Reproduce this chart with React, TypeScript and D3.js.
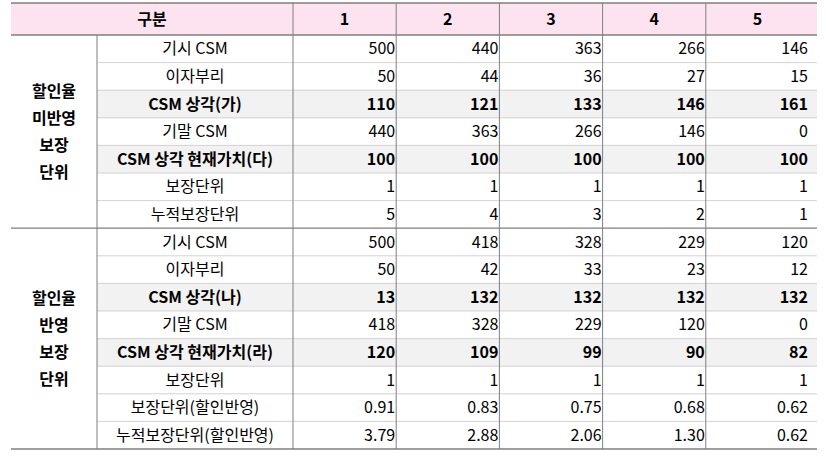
import React from "react";
import * as d3 from "d3";

const columns = ["1", "2", "3", "4", "5"];
const groupA = "할인율\n미반영\n보장\n단위";
const groupB = "할인율\n반영\n보장\n단위";
const labelsA = ["기시 CSM", "이자부리", "CSM 상각(가)", "기말 CSM", "CSM 상각 현재가치(다)", "보장단위", "누적보장단위"];
const valuesA = [
  ["500", "440", "363", "266", "146"],
  ["50", "44", "36", "27", "15"],
  ["110", "121", "133", "146", "161"],
  ["440", "363", "266", "146", "0"],
  ["100", "100", "100", "100", "100"],
  ["1", "1", "1", "1", "1"],
  ["5", "4", "3", "2", "1"],
];
const boldA = [false, false, true, false, true, false, false];
const labelsB = ["기시 CSM", "이자부리", "CSM 상각(나)", "기말 CSM", "CSM 상각 현재가치(라)", "보장단위", "보장단위(할인반영)", "누적보장단위(할인반영)"];
const valuesB = [
  ["500", "418", "328", "229", "120"],
  ["50", "42", "33", "23", "12"],
  ["13", "132", "132", "132", "132"],
  ["418", "328", "229", "120", "0"],
  ["120", "109", "99", "90", "82"],
  ["1", "1", "1", "1", "1"],
  ["0.91", "0.83", "0.75", "0.68", "0.62"],
  ["3.79", "2.88", "2.06", "1.30", "0.62"],
];
const boldB = [false, false, true, false, true, false, false, false];

export default function App() {
  const W = 826, H = 461;
  const x0 = 11, xL = 97, xV = 293, xEnd = 817;
  const yTop = 3, yHead = 35, rowH = 27.6;
  const xc = d3.scaleBand().domain(columns).range([xV, xEnd - 8]);
  const font = "'Noto Sans CJK KR', 'Noto Sans', sans-serif";
  const fs = 16;
  const rows = [
    ...labelsA.map((l, i) => ({ l, v: valuesA[i], b: boldA[i], g: 0 })),
    ...labelsB.map((l, i) => ({ l, v: valuesB[i], b: boldB[i], g: 1 })),
  ];
  const y = (i: number) => yHead + i * rowH;
  const groups = [
    { text: groupA, start: 0, n: labelsA.length },
    { text: groupB, start: labelsA.length, n: labelsB.length },
  ];
  const colEdges = [xV, ...columns.slice(1).map((c) => xc(c)!)];
  return (
    <svg width={W} height={H} style={{ position: "absolute", left: 0, top: 0 }} fontFamily={font}>
      <rect x={0} y={0} width={W} height={H} fill="#fff" />
      <rect x={x0} y={yTop} width={xEnd - x0} height={yHead - yTop} fill="#fde3f0" />
      {rows.map((r, i) => r.b ? <rect key={"bg" + i} x={xL} y={y(i)} width={xEnd - xL} height={rowH} fill="#f2f2f2" /> : null)}
      {rows.map((r, i) => i > 0 && i !== labelsA.length ? (
        <line key={"h" + i} x1={xL} x2={xEnd} y1={y(i)} y2={y(i)} stroke="#c8c8c8" strokeWidth={0.8} />
      ) : null)}
      {[yTop, yHead, y(labelsA.length), y(rows.length)].map((yy, i) => (
        <line key={"H" + i} x1={x0} x2={xEnd} y1={yy} y2={yy} stroke="#7f7f7f" strokeWidth={1.3} />
      ))}
      <line x1={xL} x2={xL} y1={yHead} y2={y(rows.length)} stroke="#7f7f7f" strokeWidth={1} />
      {colEdges.map((xx, i) => (
        <line key={"v" + i} x1={xx} x2={xx} y1={yTop} y2={y(rows.length)} stroke="#7f7f7f" strokeWidth={1} />
      ))}
      <text x={(x0 + xV) / 2} y={(yTop + yHead) / 2} dy="0.35em" textAnchor="middle" fontSize={fs} fontWeight="bold">구분</text>
      {columns.map((c) => (
        <text key={c} x={xc(c)! + xc.bandwidth() / 2} y={(yTop + yHead) / 2} dy="0.35em" textAnchor="middle" fontSize={fs} fontWeight="bold">{c}</text>
      ))}
      {groups.map((g, gi) => {
        const lines = g.text.split("\n");
        const cy = y(g.start) + (g.n * rowH) / 2;
        const lh = 27;
        return lines.map((t, k) => (
          <text key={gi + "-" + k} x={(x0 + xL) / 2} y={cy + (k - (lines.length - 1) / 2) * lh} dy="0.35em" textAnchor="middle" fontSize={fs} fontWeight="bold">{t}</text>
        ));
      })}
      {rows.map((r, i) => (
        <g key={"r" + i} fontWeight={r.b ? "bold" : "normal"} fontSize={fs}>
          <text x={(xL + xV) / 2} y={y(i) + rowH / 2} dy="0.35em" textAnchor="middle">{r.l}</text>
          {r.v.map((v, j) => (
            <text key={j} x={xc(columns[j])! + xc.bandwidth() - 1} y={y(i) + rowH / 2} dy="0.35em" textAnchor="end">{v}</text>
          ))}
        </g>
      ))}
    </svg>
  );
}
